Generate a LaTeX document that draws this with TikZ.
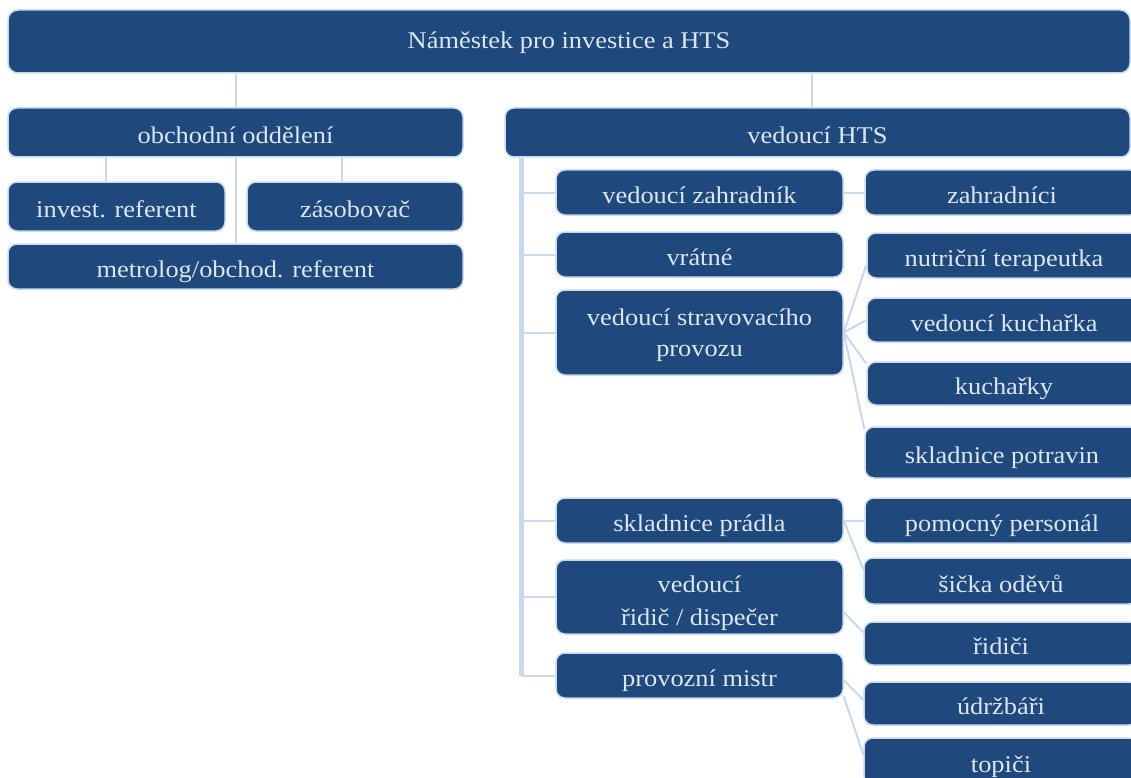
\documentclass[tikz,border=0pt]{standalone}
\usepackage{fontspec}
\setmainfont{Liberation Serif}[FakeStretch=1.1]
\usetikzlibrary{calc,backgrounds}
\definecolor{boxfill}{HTML}{1F497D}
\definecolor{lineblue}{HTML}{C6D9F1}
\definecolor{txtcol}{HTML}{DCE6F2}
\tikzset{
  orgbase/.style={draw=lineblue, line width=1.5pt, fill=boxfill, rounded corners=9pt,
    text=txtcol, inner sep=0pt, align=center, font=\fontsize{24pt}{31pt}\selectfont},
  orgbox/.style={orgbase, text height=22pt, text depth=0pt},
  conn/.style={draw=lineblue, line width=2pt},
  barline/.style={draw=lineblue, line width=5pt},
  lcol/.style={orgbox, minimum width=287pt},
  lcoltwo/.style={orgbase, minimum width=287pt},
  rcol/.style={orgbox, minimum width=274pt},
}
\begin{document}
\begin{tikzpicture}[x=1pt,y=-1pt]
\useasboundingbox (0,0) rectangle (1131,778);
% top level
\node[orgbase, text height=14pt, text depth=0pt, minimum width=1122pt, minimum height=63pt, rounded corners=10pt] (top) at (569,41.5) {Náměstek pro investice a HTS};
\node[orgbox, minimum width=455pt, minimum height=49pt] (obch) at (235.5,132.5) {obchodní oddělení};
\node[orgbox, minimum width=625pt, minimum height=49pt] (vhts) at (817.5,132.5) {vedoucí HTS};
% left branch
\node[orgbox, minimum width=217pt, minimum height=49pt] (inv) at (116.5,206.5) {invest. referent};
\node[orgbox, minimum width=216pt, minimum height=49pt] (zas) at (355,206.5) {zásobovač};
\node[orgbox, minimum width=455pt, minimum height=45pt] (met) at (235.5,266.5) {metrolog/obchod. referent};
% left column of HTS
\node[lcol, minimum height=45pt] (vz) at (699.5,192.5) {vedoucí zahradník};
\node[lcol, minimum height=45pt] (vr) at (699.5,254.5) {vrátné};
\node[lcoltwo, minimum height=85pt, text height=52pt, text depth=5pt] (sv) at (699.5,332.5) {vedoucí stravovacího\\provozu};
\node[lcol, minimum height=45pt] (sp) at (699.5,520.5) {skladnice prádla};
\node[lcoltwo, minimum height=74pt, font=\fontsize{24pt}{33pt}\selectfont, text height=62pt, text depth=6pt] (vri) at (699.5,597) {vedoucí\\řidič / dispečer};
\node[lcol, minimum height=45pt] (pm) at (699.5,675.5) {provozní mistr};
% right column of HTS
\node[rcol, minimum height=45pt] (zah) at (1002,192.5) {zahradníci};
\node[rcol, minimum height=45pt] (nt) at (1004,255.5) {nutriční terapeutka};
\node[rcol, minimum height=44pt] (vk) at (1004,320) {vedoucí kuchařka};
\node[rcol, minimum height=43pt] (ku) at (1004,383.5) {kuchařky};
\node[rcol, minimum height=51pt] (spo) at (1002,452.5) {skladnice potravin};
\node[rcol, minimum height=45pt] (pp) at (1002,520.5) {pomocný personál};
\node[rcol, minimum height=46pt] (si) at (1001,581) {šička oděvů};
\node[rcol, minimum height=43pt] (ri) at (1001,643.5) {řidiči};
\node[rcol, minimum height=43pt] (ud) at (1001,703.5) {údržbáři};
\node[rcol, minimum height=47pt] (to) at (1001,761.5) {topiči};
\begin{scope}[on background layer]
  % top connectors
  \draw[conn] (top.south -| obch.north) -- (obch.north);
  \draw[conn] ([xshift=-6pt]vhts.north) -- ([xshift=-6pt]vhts.north |- top.south);
  \draw[conn] ([xshift=-11pt]inv.north |- obch.south) -- ([xshift=-11pt]inv.north);
  \draw[conn] ([xshift=-13pt]zas.north |- obch.south) -- ([xshift=-13pt]zas.north);
  \draw[conn] (obch.south) -- (met.north);
  % HTS bar
  \coordinate (bar) at ([xshift=17pt]vhts.south west);
  \draw[barline] (bar) -- (bar |- pm.west);
  \foreach \n in {vz,vr,sv,sp,vri,pm}{
    \draw[conn] (bar |- \n.west) -- (\n.west);
  }
  % second level connectors
  \draw[conn] (vz.east) -- (zah.west);
  \draw[conn] (sv.east) -- ($(nt.north west)!0.7!(nt.south west)$);
  \draw[conn] (sv.east) -- (vk.west);
  \draw[conn] (sv.east) -- ($(ku.north west)!0.05!(ku.south west)$);
  \draw[conn] (sv.east) -- ($(spo.north west)!0.05!(spo.south west)$);
  \draw[conn] (sp.east) -- (pp.west);
  \draw[conn] (sp.east) -- ($(si.north west)!0.26!(si.south west)$);
  \draw[conn] ($(vri.north east)!0.7!(vri.south east)$) -- ($(ri.north west)!0.25!(ri.south west)$);
  \draw[conn] ($(pm.north east)!0.6!(pm.south east)$) -- ($(ud.north west)!0.42!(ud.south west)$);
  \draw[conn] ($(pm.north east)!0.95!(pm.south east)$) -- ($(to.north west)!0.36!(to.south west)$);
\end{scope}
\end{tikzpicture}
\end{document}
